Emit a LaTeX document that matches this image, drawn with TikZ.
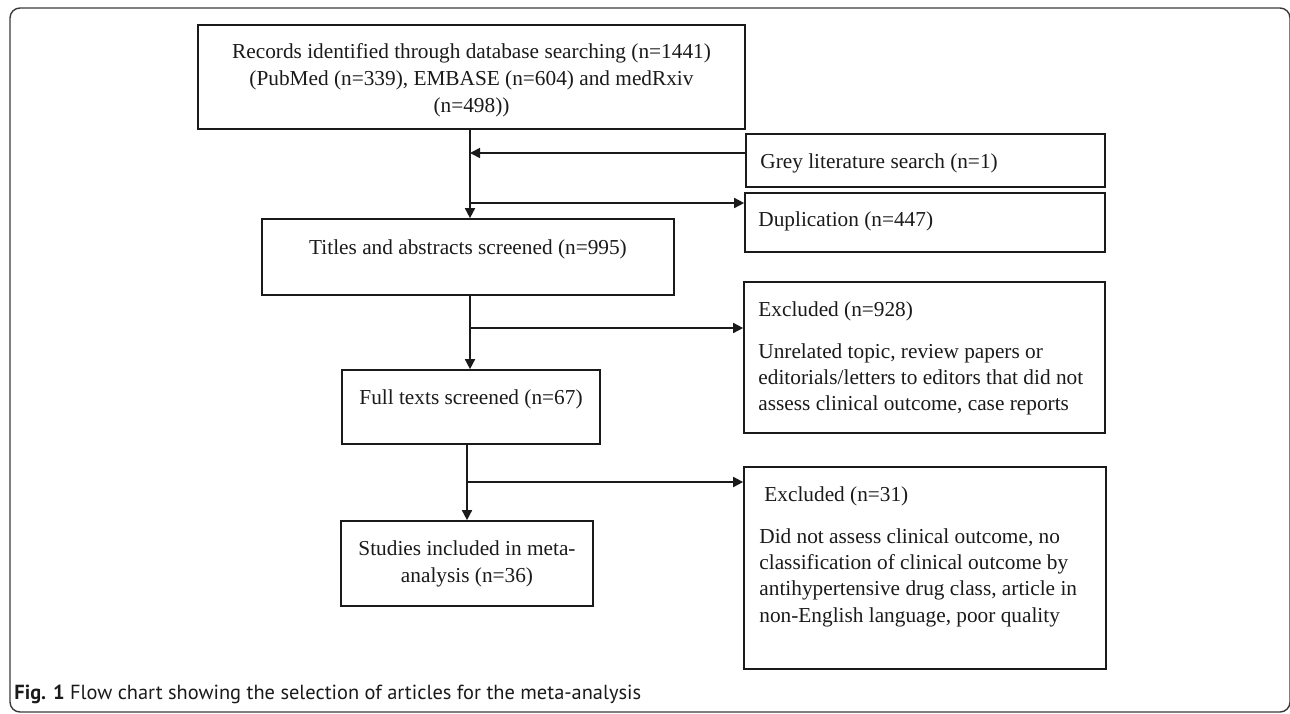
\documentclass[tikz,border=0pt]{standalone}
\usepackage{fontspec}
\setmainfont{Liberation Serif}
\newfontfamily\capfont{PT Sans}
\usetikzlibrary{arrows.meta,fit}
\definecolor{ink}{HTML}{1A1A1A}
\definecolor{framec}{HTML}{3A3A3A}
\tikzset{
  boxn/.style={draw=ink, line width=0.85pt, inner sep=0pt},
  txt/.style={inner sep=0pt, font=\fontsize{10.65pt}{13.4pt}\selectfont, text=ink, yshift=-1.5pt},
  ltxt/.style={txt, anchor=mid west},
  ctxt/.style={txt, anchor=mid},
  conn/.style={draw=ink, line width=0.85pt},
  arr/.style={conn, -{Triangle[length=5pt,width=5pt]}},
}
\begin{document}
\begin{tikzpicture}[x=0.5pt,y=-0.5pt]
\useasboundingbox (0,0) rectangle (1290,713);
% outer frame
\draw[framec, line width=0.7pt, rounded corners=5pt] (10,8) rectangle (1290,712);

% boxes
\node[boxn, fit={(198,25) (745,129)}] (rec) {};
\node[boxn, fit={(746,134) (1105,187)}] (grey) {};
\node[boxn, fit={(745,193) (1105,252)}] (dup) {};
\node[boxn, fit={(262,219) (674,295)}] (titles) {};
\node[boxn, fit={(744,282) (1105,433)}] (exc1) {};
\node[boxn, fit={(342,370) (600,444)}] (full) {};
\node[boxn, fit={(341,521) (593,606)}] (studies) {};
\node[boxn, fit={(744,467) (1106,669)}] (exc2) {};

% texts
\node[ctxt] (rec1) at (471.5,51) {Records identified through database searching (n=1441)};
\node[ctxt] (rec2) at (471.5,78) {(PubMed (n=339), EMBASE (n=604) and medRxiv};
\node[ctxt] (rec3) at (471.5,105) {(n=498))};
\node[ltxt] (greyt) at (760,161) {Grey literature search (n=1)};
\node[ltxt] (dupt) at (758,219) {Duplication (n=447)};
\node[ctxt] (titlest) at (468,247) {Titles and abstracts screened (n=995)};
\node[ltxt] (exa0) at (758,309) {Excluded (n=928)};
\node[ltxt] (exa1) at (758,351) {Unrelated topic, review papers or};
\node[ltxt] (exa2) at (758,377) {editorials/letters to editors that did not};
\node[ltxt] (exa3) at (758,403) {assess clinical outcome, case reports};
\node[ctxt] (fullt) at (471,397) {Full texts screened (n=67)};
\node[ctxt] (stu1) at (467,548) {Studies included in meta-};
\node[ctxt] (stu2) at (467,575) {analysis (n=36)};
\node[ltxt] (exb0) at (764,494) {Excluded (n=31)};
\node[ltxt] (exb1) at (759,536) {Did not assess clinical outcome, no};
\node[ltxt] (exb2) at (759,562) {classification of clinical outcome by};
\node[ltxt] (exb3) at (759,588) {antihypertensive drug class, article in};
\node[ltxt] (exb4) at (759,615) {non-English language, poor quality};

% junctions
\coordinate (j1) at (470,153);
\coordinate (j2) at (470,203);
\coordinate (j3) at (470,328);
\coordinate (j4) at (467,482);

% connectors
\draw[arr] (rec.south -| j1) -- (titles.north -| j1);
\draw[arr] (grey.west |- j1) -- (j1);
\draw[arr] (j2) -- (dup.west |- j2);
\draw[arr] (titles.south -| j3) -- (full.north -| j3);
\draw[arr] (j3) -- (exc1.west |- j3);
\draw[arr] (full.south -| j4) -- (studies.north -| j4);
\draw[arr] (j4) -- (exc2.west |- j4);

% caption
\node[inner sep=0pt, anchor=mid west, text=ink, font=\capfont\fontsize{10.2pt}{12pt}\selectfont] (cap) at (14,695)
  {\textbf{Fig. 1} Flow chart showing the selection of articles for the meta-analysis};
\end{tikzpicture}
\end{document}
